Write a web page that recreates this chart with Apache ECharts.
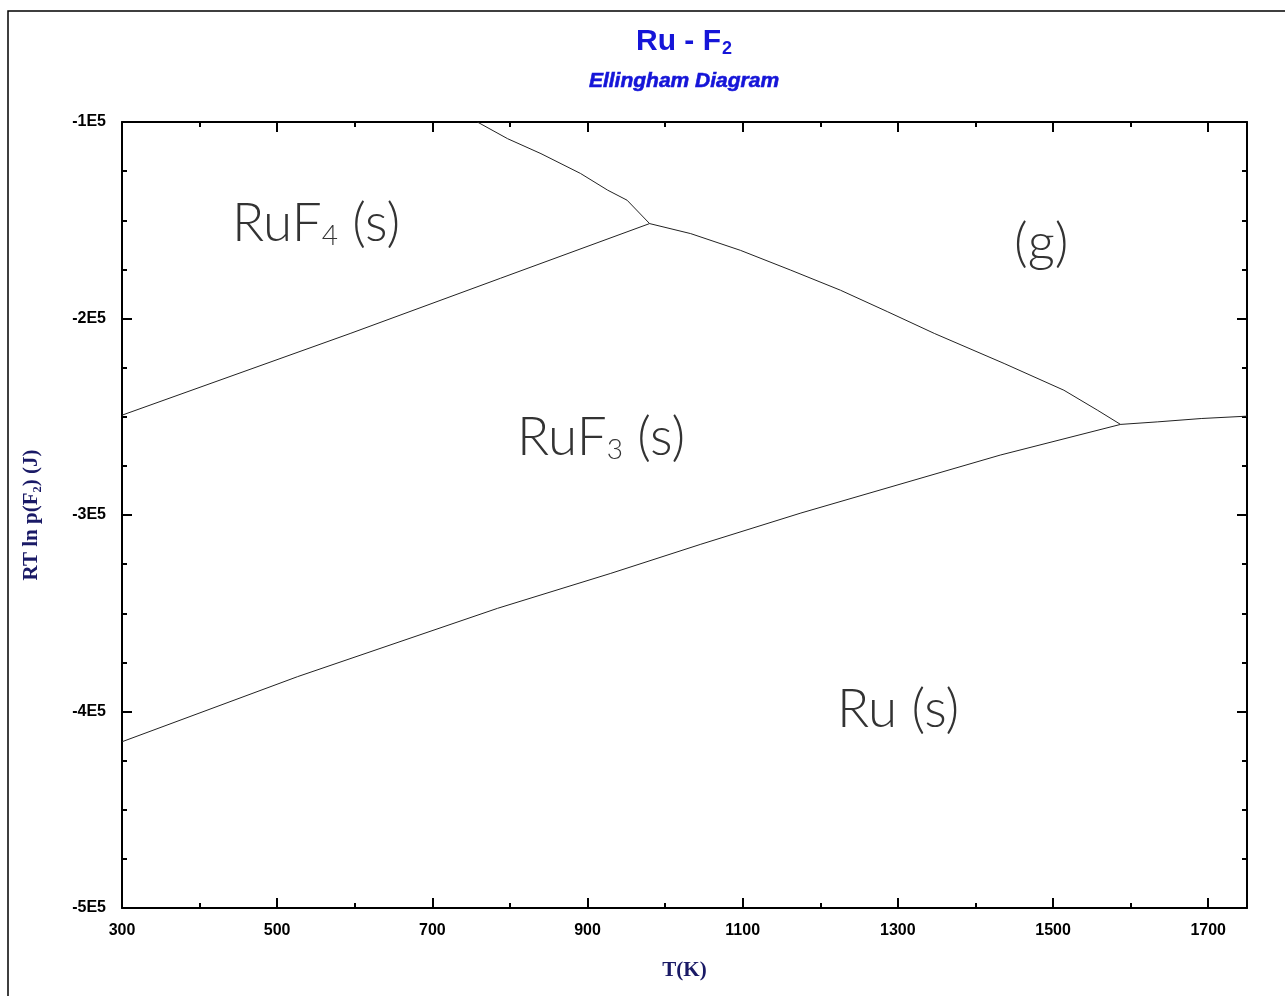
<!DOCTYPE html>
<html>
<head>
<meta charset="utf-8">
<script src="https://cdn.jsdelivr.net/npm/echarts@6/dist/echarts.min.js"></script>
<style>
html,body{margin:0;padding:0;background:#fff;}
#chart{width:1285px;height:996px;}
</style>
</head>
<body>
<div id="chart"></div>
<script>
// Temperature axis (K) and RT ln p(F2) (J) values
var xTicks = [300, 500, 700, 900, 1100, 1300, 1500, 1700];
var yTicks = ['-1E5', '-2E5', '-3E5', '-4E5', '-5E5'];

// RuF4(s) / RuF3(s) boundary
var ruf4_ruf3_T = [300, 595, 788, 980];
var ruf4_ruf3_V = [-249200, -207500, -179500, -151700];

// RuF4(s) / gas boundary
var ruf4_g_T = [758, 797, 840, 891, 926, 951, 980];
var ruf4_g_V = [-100000, -108500, -116100, -126200, -134700, -139800, -151700];

// RuF3(s) / gas boundary
var ruf3_g_T = [980, 1033, 1097, 1162, 1226, 1287, 1347, 1437, 1514, 1557, 1587];
var ruf3_g_V = [-151700, -156800, -165300, -175400, -185600, -196600, -207600, -222900, -236500, -246600, -253900];

// Ru(s) / gas boundary
var ru_g_T = [1587, 1635, 1691, 1750];
var ru_g_V = [-253900, -252600, -250900, -249700];

// Ru(s) / RuF3(s) boundary
var ru_ruf3_T = [300, 526, 784, 930, 1046, 1175, 1432, 1587];
var ru_ruf3_V = [-415400, -382300, -347500, -329700, -314900, -299000, -269500, -253900];

function pairs(xs, ys){ return xs.map(function(x,i){ return [x, ys[i]]; }); }

var chart = echarts.init(document.getElementById('chart'));
var lineStyle = {color:'#222', width:1};
function lineSeries(xs, ys){
  return {type:'line', data:pairs(xs, ys), showSymbol:false, symbol:'none',
          lineStyle:lineStyle, silent:true, animation:false, xAxisIndex:0, yAxisIndex:0};
}
var tickFont = {color:'#000', fontFamily:'Arial, Liberation Sans', fontWeight:'bold', fontSize:16};
var axisLine = {show:true, lineStyle:{color:'#000', width:2}};

var regionFont = "'Lato', 'Open Sans', sans-serif";
function regionLabel(x, y, main, sub, rest){
  return {type:'text', left:x, top:y, silent:true, style:{
    text: sub ? '{a|'+main+'}{b|'+sub+'}{a|'+rest+'}' : '{a|'+main+'}',
    rich:{
      a:{fontSize:53, fontFamily:regionFont, fontWeight:300, fill:'#333', color:'#333'},
      b:{fontSize:28, fontFamily:regionFont, fontWeight:300, fill:'#333', color:'#333', verticalAlign:'bottom'}
    }
  }};
}

chart.setOption({
  animation:false,
  backgroundColor:'#fff',
  grid:{left:122, top:122, right:38, bottom:88, show:false},
  xAxis:[
    {type:'value', position:'bottom', min:300, max:1750, interval:200,
     axisLine:axisLine, splitLine:{show:false},
     axisTick:{inside:true, length:10, lineStyle:{color:'#000', width:2}},
     minorTick:{show:true, splitNumber:2, length:5, lineStyle:{color:'#000', width:2}},
     axisLabel:Object.assign({margin:15, showMaxLabel:false, formatter:function(v){ return xTicks.indexOf(v)>=0 ? String(v) : ''; }}, tickFont),
     name:'T(K)', nameLocation:'middle', nameGap:52,
     nameTextStyle:{color:'#1a1a66', fontFamily:'Liberation Serif, serif', fontWeight:'bold', fontSize:21}},
    {type:'value', position:'top', min:300, max:1750, interval:200,
     axisLine:axisLine, splitLine:{show:false},
     axisTick:{inside:true, length:10, lineStyle:{color:'#000', width:2}},
     minorTick:{show:true, splitNumber:2, length:5, lineStyle:{color:'#000', width:2}},
     axisLabel:{show:false}}
  ],
  yAxis:[
    {type:'value', position:'left', min:-500000, max:-100000, interval:100000,
     axisLine:axisLine, splitLine:{show:false},
     axisTick:{inside:true, length:10, lineStyle:{color:'#000', width:2}},
     minorTick:{show:true, splitNumber:4, length:5, lineStyle:{color:'#000', width:2}},
     axisLabel:Object.assign({margin:16, formatter:function(v){ return yTicks[Math.round((-100000 - v)/100000)]; }}, tickFont),
     name:'RT ln p(F\u2082) (J)', nameLocation:'middle', nameGap:80, nameRotate:90,
     nameTextStyle:{color:'#1a1a66', fontFamily:'Liberation Serif, serif', fontWeight:'bold', fontSize:21}},
    {type:'value', position:'right', min:-500000, max:-100000, interval:100000,
     axisLine:axisLine, splitLine:{show:false},
     axisTick:{inside:true, length:10, lineStyle:{color:'#000', width:2}},
     minorTick:{show:true, splitNumber:4, length:5, lineStyle:{color:'#000', width:2}},
     axisLabel:{show:false}}
  ],
  series:[
    lineSeries(ruf4_ruf3_T, ruf4_ruf3_V),
    lineSeries(ruf4_g_T, ruf4_g_V),
    lineSeries(ruf3_g_T, ruf3_g_V),
    lineSeries(ru_g_T, ru_g_V),
    lineSeries(ru_ruf3_T, ru_ruf3_V)
  ],
  graphic:[
    {type:'rect', silent:true, shape:{x:8, y:11, width:1300, height:1010},
     style:{fill:'none', stroke:'#000', lineWidth:1.5}},
    {type:'text', x:684, y:26, silent:true, style:{
      text:'{t|Ru - F}{s|2}', align:'center',
      rich:{
        t:{fontSize:30, fontWeight:'bold', fontFamily:'Arial, Liberation Sans', fill:'#1515d8', color:'#1515d8'},
        s:{fontSize:18, fontWeight:'bold', fontFamily:'Arial, Liberation Sans', fill:'#1515d8', color:'#1515d8', verticalAlign:'bottom', padding:[14,0,0,1]}
      }}},
    {type:'text', x:684, y:71, silent:true, style:{
      text:'Ellingham Diagram', fontSize:21, fontWeight:'bold', fontStyle:'italic', align:'center',
      fontFamily:'Arial, Liberation Sans', fill:'#1515d8', stroke:'#1515d8', lineWidth:0.6}},
    regionLabel(232, 197, 'RuF', '4', ' (s)'),
    regionLabel(517, 411, 'RuF', '3', ' (s)'),
    regionLabel(1014, 217, '(g)'),
    regionLabel(837, 683, 'Ru (s)')
  ]
});
</script>
</body>
</html>
